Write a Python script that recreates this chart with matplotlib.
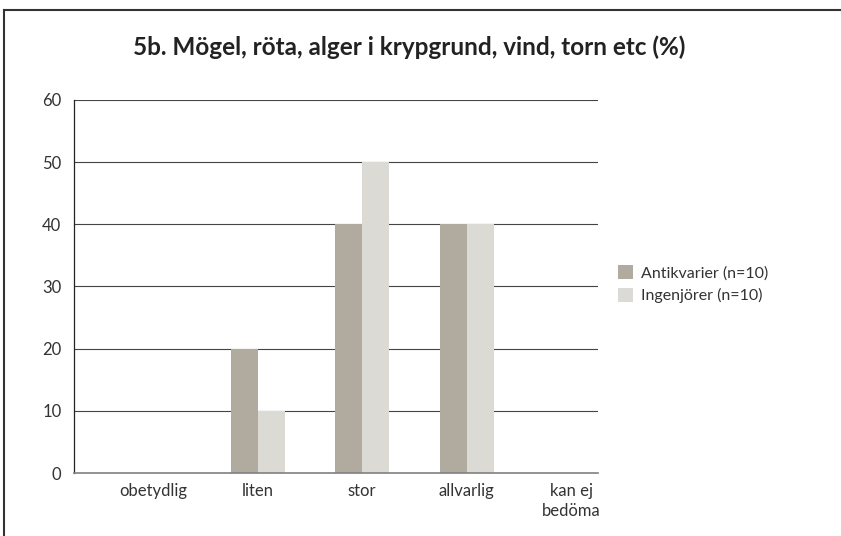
import numpy as np
import matplotlib
matplotlib.use("Agg")
import matplotlib.pyplot as plt

plt.rcParams['font.family'] = ['Lato', 'DejaVu Sans']

categories = ['obetydlig', 'liten', 'stor', 'allvarlig', 'kan ej\nbedöma']
antikvarier = [0, 20, 40, 40, 0]
ingenjorer = [0, 10, 50, 40, 0]
series_names = ['Antikvarier (n=10)', 'Ingenjörer (n=10)']
yticks = [0, 10, 20, 30, 40, 50, 60]

fig = plt.figure(figsize=(8.41, 5.36), dpi=100)
ax = fig.add_axes([0.088, 0.1175, 0.623, 0.696])

x = np.arange(len(categories))
w = 0.258
ax.bar(x - w / 2, antikvarier, w, color='#b1aa9f', label=series_names[0], zorder=3)
ax.bar(x + w / 2, ingenjorer, w, color='#dcdad5', label=series_names[1], zorder=3)

ax.set_xlim(-0.755, 4.254)
ax.set_ylim(0, 60)
ax.set_yticks(yticks)
ax.set_xticks(x)
ax.set_xticklabels(categories, fontsize=12, color='#333333', linespacing=1.3)
ax.tick_params(axis='y', length=0, pad=9, labelsize=12, labelcolor='#333333')
ax.tick_params(axis='x', length=0, pad=7)
for t in yticks[1:]:
    ax.axhline(t, color='#444444', lw=0.8, zorder=1)

for s in ['top', 'right']:
    ax.spines[s].set_visible(False)
ax.spines['left'].set_color('#222222')
ax.spines['left'].set_linewidth(0.9)
ax.spines['bottom'].set_color('#808080')
ax.spines['bottom'].set_linewidth(1.2)
ax.spines['bottom'].set_zorder(4)

fig.text(0.487, 0.912, '5b. Mögel, röta, alger i krypgrund, vind, torn etc (%)',
         ha='center', va='center', fontsize=17.5, fontweight='bold', color='#222222')

fig.legend(loc='center left', bbox_to_anchor=(0.718, 0.47), frameon=False,
           fontsize=11.5, handlelength=0.9, handleheight=1.0, handletextpad=0.5,
           labelspacing=0.45, labelcolor='#333333')

# outer frame (left and top edges)
fig.add_artist(plt.Line2D([0.005, 0.005], [0, 0.981], color='#333333', lw=1.5))
fig.add_artist(plt.Line2D([0.005, 1.0], [0.981, 0.981], color='#333333', lw=1.5))

fig.savefig('out.png', dpi=100)
